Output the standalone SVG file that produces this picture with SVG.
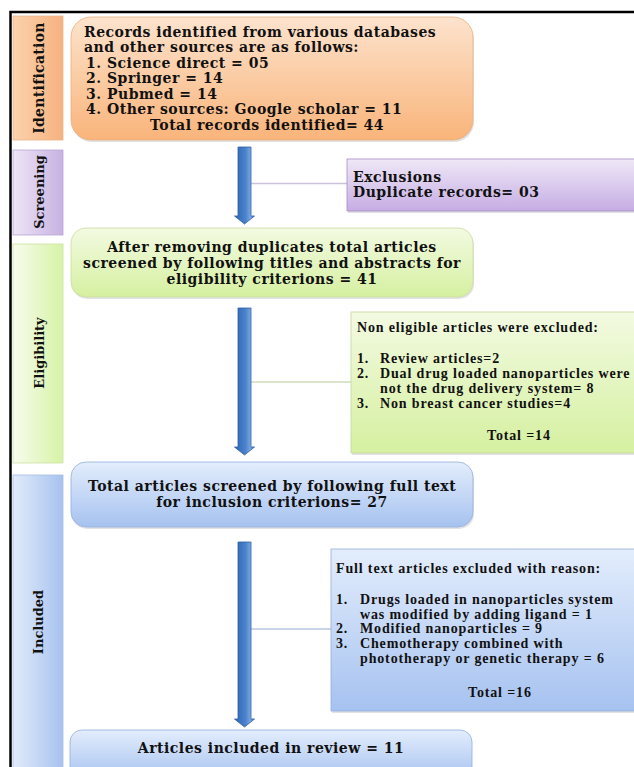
<svg xmlns="http://www.w3.org/2000/svg" width="634" height="767" viewBox="0 0 634 767">
<defs>
<linearGradient id="gOr" x1="0" y1="0" x2="0" y2="1"><stop offset="0" stop-color="#fde3cd"/><stop offset="1" stop-color="#f9b47a"/></linearGradient>
<linearGradient id="gOrS" x1="0" y1="0" x2="1" y2="0"><stop offset="0" stop-color="#fbd2ad"/><stop offset="1" stop-color="#f6b27e"/></linearGradient>
<linearGradient id="gPu" x1="0" y1="0" x2="0" y2="1"><stop offset="0" stop-color="#efe8f7"/><stop offset="1" stop-color="#c6ade3"/></linearGradient>
<linearGradient id="gPuS" x1="0" y1="0" x2="1" y2="0"><stop offset="0" stop-color="#ede5f6"/><stop offset="1" stop-color="#c8b2e2"/></linearGradient>
<linearGradient id="gGr" x1="0" y1="0" x2="0" y2="1"><stop offset="0" stop-color="#f3fae2"/><stop offset="1" stop-color="#d5f0a0"/></linearGradient>
<linearGradient id="gGrS" x1="0" y1="0" x2="1" y2="0"><stop offset="0" stop-color="#f8fced"/><stop offset="1" stop-color="#d6f3a6"/></linearGradient>
<linearGradient id="gBl" x1="0" y1="0" x2="0" y2="1"><stop offset="0" stop-color="#e3edfc"/><stop offset="1" stop-color="#a6c2f0"/></linearGradient>
<linearGradient id="gBlS" x1="0" y1="0" x2="1" y2="0"><stop offset="0" stop-color="#e2ebfb"/><stop offset="1" stop-color="#a7c2ef"/></linearGradient>
<linearGradient id="gAr" x1="0" y1="0" x2="1" y2="0"><stop offset="0" stop-color="#2f64b0"/><stop offset="0.55" stop-color="#4a82cc"/><stop offset="0.8" stop-color="#7aa6e0"/><stop offset="1" stop-color="#3e72bd"/></linearGradient>
</defs>
<style>
.bk{font-family:"DejaVu Serif","Liberation Serif",serif;font-weight:bold;font-size:14px;letter-spacing:0.5px;fill:#111}
.tm{font-family:"Liberation Serif","Times New Roman",serif;font-weight:bold;font-size:14px;letter-spacing:0.85px;fill:#111}
.lbl{font-family:"DejaVu Serif","Liberation Serif",serif;font-weight:bold;font-size:13px;fill:#111}
.c{text-anchor:middle}
.ar{fill:url(#gAr);stroke:#2d5ea6;stroke-width:0.8}
.sh{fill:#c8c8c8;opacity:0.5}
</style>

<rect x="10.5" y="12" width="640" height="780" fill="none" stroke="#000" stroke-width="2.5"/>

<g id="connectors">
<line x1="250" y1="183.5" x2="347" y2="183.5" stroke="#cbc3da" stroke-width="1.5"/>
<line x1="250" y1="382" x2="351" y2="382" stroke="#cfdcb8" stroke-width="1.5"/>
<line x1="250" y1="629" x2="331" y2="629" stroke="#b8c8e0" stroke-width="1.5"/>
<path class="ar" d="M238,147 H251 V216 H254.5 L244.5,224 L234.5,216 H238 Z"/>
<path class="ar" d="M238,308 H251 V447 H254.5 L244.5,455 L234.5,447 H238 Z"/>
<path class="ar" d="M238,542 H251 V719 H254.5 L244.5,727 L234.5,719 H238 Z"/>
</g>

<g id="lbl-identification">
<rect x="13" y="16" width="50" height="124" fill="url(#gOrS)" stroke="#eab48a" stroke-width="0.8"/>
<text class="lbl c" style="font-size:14px;letter-spacing:0.3px" transform="translate(43.5,78) rotate(-90)">Identification</text>
</g>
<g id="lbl-screening">
<rect x="13" y="150" width="50" height="85" fill="url(#gPuS)" stroke="#b9a6d6" stroke-width="0.8"/>
<text class="lbl c" transform="translate(44,192) rotate(-90)">Screening</text>
</g>
<g id="lbl-eligibility">
<rect x="13" y="244" width="50" height="219" fill="url(#gGrS)" stroke="#cde2a6" stroke-width="0.8"/>
<text class="lbl c" transform="translate(44,353) rotate(-90)">Eligibility</text>
</g>
<g id="lbl-included">
<rect x="13" y="475" width="50" height="300" fill="url(#gBlS)" stroke="#a4bde6" stroke-width="0.8"/>
<text class="lbl c" transform="translate(43,622) rotate(-90)">Included</text>
</g>

<g id="n-identified">
<rect x="72" y="19" width="402" height="123" rx="20" class="sh"/>
<rect x="71" y="17" width="402" height="123" rx="20" fill="url(#gOr)" stroke="#e9b07e" stroke-width="0.8"/>
<text class="bk" x="84" y="37">Records identified from various databases</text>
<text class="bk" x="84" y="52">and other sources are as follows:</text>
<text class="bk" x="86" y="68">1.  Science direct = 05</text>
<text class="bk" x="86" y="83">2.  Springer = 14</text>
<text class="bk" x="86" y="99">3. Pubmed = 14</text>
<text class="bk" x="86" y="114">4. Other sources: Google scholar  = 11</text>
<text class="bk" x="150" y="130">Total records identified= 44</text>
</g>

<g id="n-exclusions">
<rect x="348" y="161" width="290" height="52" class="sh"/>
<rect x="347" y="159" width="290" height="52" fill="url(#gPu)" stroke="#a58cc9" stroke-width="0.8"/>
<text class="bk" x="353" y="182">Exclusions</text>
<text class="bk" x="353" y="197">Duplicate records= 03</text>
</g>

<g id="n-screened">
<rect x="72" y="230" width="402" height="69" rx="15" class="sh"/>
<rect x="71" y="228" width="402" height="69" rx="15" fill="url(#gGr)" stroke="#cbdca2" stroke-width="0.8"/>
<text class="bk c" x="272" y="252">After removing duplicates total articles</text>
<text class="bk c" x="272" y="268">screened by following titles and abstracts for</text>
<text class="bk c" x="272" y="284">eligibility criterions = 41</text>
</g>

<g id="n-noneligible">
<rect x="352" y="314" width="290" height="141" class="sh"/>
<rect x="351" y="312" width="290" height="141" fill="url(#gGr)" stroke="#c5d8a0" stroke-width="0.8"/>
<text class="tm" x="357" y="332">Non eligible articles were excluded:</text>
<text class="tm" x="357" y="363">1.</text><text class="tm" x="380" y="363">Review articles=2</text>
<text class="tm" x="357" y="378">2.</text><text class="tm" x="380" y="378">Dual drug loaded nanoparticles were</text>
<text class="tm" x="380" y="393">not the drug delivery system= 8</text>
<text class="tm" x="357" y="408">3.</text><text class="tm" x="380" y="408">Non breast cancer studies=4</text>
<text class="tm" x="487" y="440">Total =14</text>
</g>

<g id="n-fulltext">
<rect x="72" y="464" width="402" height="65" rx="15" class="sh"/>
<rect x="71" y="462" width="402" height="65" rx="15" fill="url(#gBl)" stroke="#93b0dc" stroke-width="0.8"/>
<text class="bk c" x="272" y="491">Total articles screened by following full text</text>
<text class="bk c" x="272" y="507">for inclusion criterions= 27</text>
</g>

<g id="n-excluded">
<rect x="332" y="551" width="310" height="162" class="sh"/>
<rect x="331" y="549" width="310" height="162" fill="url(#gBl)" stroke="#93b0dc" stroke-width="0.8"/>
<text class="tm" x="336" y="573">Full text articles excluded with reason:</text>
<text class="tm" x="336" y="604">1.</text><text class="tm" x="360" y="604">Drugs loaded in nanoparticles system</text>
<text class="tm" x="360" y="619">was modified by adding ligand = 1</text>
<text class="tm" x="336" y="633">2.</text><text class="tm" x="360" y="633">Modified nanoparticles = 9</text>
<text class="tm" x="336" y="648">3.</text><text class="tm" x="360" y="648">Chemotherapy combined with</text>
<text class="tm" x="360" y="663">phototherapy or genetic therapy = 6</text>
<text class="tm" x="468" y="697">Total =16</text>
</g>

<g id="n-included">
<rect x="70" y="730" width="402" height="50" rx="12" fill="url(#gBl)" stroke="#93b0dc" stroke-width="0.8"/>
<text class="bk c" x="271" y="753">Articles included in review = 11</text>
</g>
</svg>
